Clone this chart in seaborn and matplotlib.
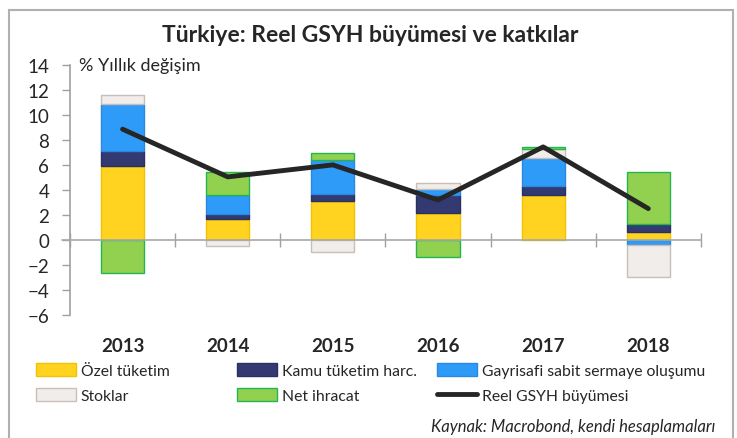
import numpy as np
import matplotlib
matplotlib.use("Agg")
import matplotlib.pyplot as plt
import matplotlib.patches as mpatches
from matplotlib.lines import Line2D
import seaborn as sns

# Data (percentage-point contributions)
years = ["2013", "2014", "2015", "2016", "2017", "2018"]
ozel_tuketim = [5.90, 1.63, 3.10, 2.11, 3.61, 0.64]
kamu_tuketim = [1.20, 0.46, 0.54, 1.47, 0.72, 0.59]
gayrisafi_sabit = [3.77, 1.47, 2.72, 0.51, 2.25, -0.45]
stoklar = [0.75, -0.51, -0.99, 0.48, 0.72, -2.54]
net_ihracat = [-2.67, 1.89, 0.59, -1.39, 0.13, 4.22]
reel_gsyh = [8.85, 5.03, 5.99, 3.18, 7.43, 2.49]

series_names = ["Özel tüketim", "Kamu tüketim harc.", "Gayrisafi sabit sermaye oluşumu",
                "Stoklar", "Net ihracat"]
series_values = [ozel_tuketim, kamu_tuketim, gayrisafi_sabit, stoklar, net_ihracat]
face_colors = ["#FFD320", "#333A72", "#2E9BF8", "#F1EDEA", "#92D150"]
edge_colors = ["#F2C200", "#2A3060", "#2A88E0", "#C9BFBA", "#25B54E"]
line_color = "#262626"

sns.set_style("white")
plt.rcParams["font.family"] = ["Lato", "DejaVu Sans"]

fig = plt.figure(figsize=(7.37, 4.39), dpi=100)
ax = fig.add_axes([0.095, 0.281, 0.856, 0.569])

x = np.arange(len(years))
pos_bottom = np.zeros(len(years))
neg_bottom = np.zeros(len(years))
handles = []
for name, vals, fc, ec in zip(series_names, series_values, face_colors, edge_colors):
    vals = np.array(vals)
    bottoms = np.where(vals >= 0, pos_bottom, neg_bottom)
    ax.bar(x, vals, bottom=bottoms, width=0.41, color=fc, edgecolor=ec, linewidth=1, zorder=2)
    pos_bottom = pos_bottom + np.clip(vals, 0, None)
    neg_bottom = neg_bottom + np.clip(vals, None, 0)
    handles.append(mpatches.Patch(facecolor=fc, edgecolor=ec, linewidth=1, label=name))

sns.lineplot(x=x, y=reel_gsyh, ax=ax, color=line_color, linewidth=3.5, zorder=4,
             solid_capstyle="round")
handles.append(Line2D([], [], color=line_color, linewidth=3.5, label="Reel GSYH büyümesi"))

ax.set_xlim(-0.5, len(years) - 0.5)
ax.set_ylim(-6, 14)
ax.set_yticks(np.arange(-6, 15, 2))
ax.tick_params(axis="y", direction="out", length=6, width=1, color="#A0A0A0",
               pad=9, labelsize=13.5, left=True)

# category boundary ticks on the zero line
ax.spines["bottom"].set_position(("data", 0))
ax.spines["bottom"].set_color("#A8A8A8")
ax.spines["bottom"].set_linewidth(1.2)
ax.set_xticks(np.arange(-0.5, len(years)))
ax.set_xticklabels([])
ax.tick_params(axis="x", direction="inout", length=10, width=1, color="#A0A0A0", bottom=True)
for s in ["top", "right"]:
    ax.spines[s].set_visible(False)
ax.spines["left"].set_color("#A0A0A0")
ax.spines["left"].set_linewidth(1.2)
ax.spines["bottom"].set_zorder(3)
# short stub of the zero line left of the y axis
ax.plot([-0.012, 0], [0, 0], color="#A8A8A8", linewidth=1.2,
        transform=ax.get_yaxis_transform(), clip_on=False)

for xi, yr in zip(x, years):
    ax.text(xi, -0.125, yr, transform=ax.get_xaxis_transform(), ha="center", va="center",
            fontsize=13.5, fontweight="bold")

ax.text(0.014, 1.0, "% Yıllık değişim", transform=ax.transAxes, ha="left", va="center",
        fontsize=13)

fig.text(0.503, 0.92, "Türkiye: Reel GSYH büyümesi ve katkılar", ha="center", va="center",
         fontsize=16.5, fontweight="bold")

# legend in three columns
col_x = [36 / 737, 237 / 737, 437 / 737]
col_handles = [[handles[0], handles[3]], [handles[1], handles[4]], [handles[2], handles[5]]]
for cx, hs in zip(col_x, col_handles):
    fig.legend(handles=hs, loc="upper left", bbox_to_anchor=(cx, 0.171), frameon=False,
               fontsize=11.3, handlelength=2.55, handleheight=0.9, handletextpad=0.3,
               labelspacing=0.62, borderpad=0, borderaxespad=0)

fig.text(715 / 737, 0.027, "Kaynak: Macrobond, kendi hesaplamaları", ha="right", va="center",
         fontsize=12, fontstyle="italic")

border = mpatches.Rectangle((9 / 737, -0.05), 724 / 737, 1.05 - 11 / 439,
                            transform=fig.transFigure, fill=False, edgecolor="#B0B0B0",
                            linewidth=1.5, clip_on=False)
fig.patches.append(border)

fig.savefig("out.png", dpi=100)
